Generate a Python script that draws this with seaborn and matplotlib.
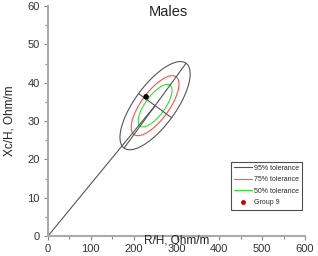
import numpy as np
import matplotlib
matplotlib.use("Agg")
import matplotlib.pyplot as plt
import seaborn as sns
from matplotlib.lines import Line2D
from matplotlib.ticker import MultipleLocator

# reference ellipse for males
MEAN_R = 250.0
MEAN_XC = 34.0
SD_R = 33.5
SD_XC = 4.7
CORR = 0.72

TOLERANCES = [0.95, 0.75, 0.50]
TOL_LABELS = ["95% tolerance", "75% tolerance", "50% tolerance"]
TOL_COLORS = ["#555555", "#ff5050", "#33e033"]

GROUP_LABEL = "Group 9"
GROUP_R = [229.0]
GROUP_XC = [36.3]

X_TICKS = [0, 100, 200, 300, 400, 500, 600]
Y_TICKS = [0, 10, 20, 30, 40, 50, 60]

sns.set_style("ticks")
plt.rcParams["font.family"] = ["Liberation Sans", "DejaVu Sans"]

fig = plt.figure(figsize=(3.18, 2.56), dpi=100)
ax = fig.add_axes([48 / 318, 20 / 256, 257 / 318, 230 / 256])
ax.set_xlim(X_TICKS[0], X_TICKS[-1])
ax.set_ylim(Y_TICKS[0], Y_TICKS[-1])

# pixel scale of each axis, so the drawn ellipse axes look perpendicular
bbox = ax.get_window_extent()
kx = bbox.width / (X_TICKS[-1] - X_TICKS[0])
ky = bbox.height / (Y_TICKS[-1] - Y_TICKS[0])

su, sv = SD_R * kx, SD_XC * ky
cov = np.array([[su ** 2, CORR * su * sv], [CORR * su * sv, sv ** 2]])
vals, vecs = np.linalg.eigh(cov)
root = vecs @ np.diag(np.sqrt(vals))

t = np.linspace(0, 2 * np.pi, 300)
circle = np.vstack([np.cos(t), np.sin(t)])

for p, col in zip(TOLERANCES, TOL_COLORS):
    k = np.sqrt(-2 * np.log(1 - p))
    pts = k * root @ circle
    sns.lineplot(x=MEAN_R + pts[0] / kx, y=MEAN_XC + pts[1] / ky, sort=False,
                 estimator=None, color=col, lw=0.8, ax=ax)

# major and minor axes of the 95% ellipse
k95 = np.sqrt(-2 * np.log(1 - TOLERANCES[0]))
for i in range(2):
    d = k95 * root[:, i]
    sns.lineplot(x=[MEAN_R - d[0] / kx, MEAN_R + d[0] / kx],
                 y=[MEAN_XC - d[1] / ky, MEAN_XC + d[1] / ky],
                 sort=False, estimator=None, color="#555555", lw=0.8, ax=ax)

# mean vector from the origin
sns.lineplot(x=[0, MEAN_R], y=[0, MEAN_XC], sort=False, estimator=None,
             color="#555555", lw=0.8, ax=ax)

sns.scatterplot(x=GROUP_R, y=GROUP_XC, color="black", s=16, edgecolor="none",
                ax=ax, zorder=5)

ax.set_xticks(X_TICKS)
ax.set_yticks(Y_TICKS)
ax.xaxis.set_minor_locator(MultipleLocator(50))
ax.yaxis.set_minor_locator(MultipleLocator(5))
ax.tick_params(which="major", length=3, width=0.8, color="#888888",
               labelsize=8, labelcolor="#333333", pad=3)
ax.tick_params(which="minor", length=2, width=0.8, color="#888888")
sns.despine(ax=ax)
for s in ["left", "bottom"]:
    ax.spines[s].set_color("#aaaaaa")
    ax.spines[s].set_linewidth(1.5)

ax.set_xlabel("")
ax.set_ylabel("Xc/H, Ohm/m", fontsize=8.5, color="#222222")
ax.yaxis.set_label_coords(-0.125, 0.5)
ax.text(0.50, -0.02, "R/H, Ohm/m", transform=ax.transAxes, ha="center",
        va="center", fontsize=8.5, color="#222222")
ax.text(0.47, 0.975, "Males", transform=ax.transAxes, ha="center",
        va="center", fontsize=10.5, color="#222222")

handles = [Line2D([0], [0], color=c, lw=0.8) for c in TOL_COLORS]
handles.append(Line2D([0], [0], marker="o", color="none", markerfacecolor="#cc0000",
                      markeredgecolor="none", markersize=3.5))
leg = ax.legend(handles, TOL_LABELS + [GROUP_LABEL], loc="lower right",
                bbox_to_anchor=(0.99, 0.115), fontsize=5, frameon=True,
                fancybox=False, handlelength=2.6, handletextpad=0.3,
                labelspacing=0.65, borderpad=0.45, borderaxespad=0)
leg.get_frame().set_edgecolor("#222222")
leg.get_frame().set_linewidth(0.8)

fig.savefig("out.png", dpi=100)
